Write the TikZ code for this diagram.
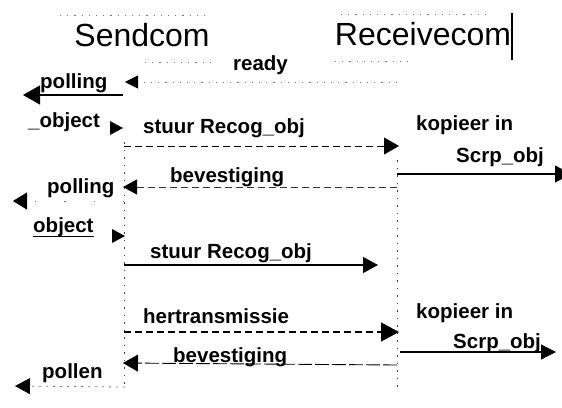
\documentclass[tikz,border=0pt]{standalone}
\usepackage{fontspec}
\setmainfont{Liberation Sans}
\usetikzlibrary{arrows.meta}
\begin{document}
\begin{tikzpicture}[x=1pt,y=-1pt,
  title/.style={font=\fontsize{32}{36}\selectfont, inner sep=0pt, anchor=base},
  lbl/.style={font=\fontsize{20.5}{23}\selectfont\bfseries, inner sep=0pt, anchor=base west},
  faint/.style={black!55, line width=0.8pt, dash pattern=on 1.2pt off 6pt},
  lifeline/.style={black!75, line width=0.9pt, dash pattern=on 1.5pt off 6pt},
  dashmsg/.style={line width=0.9pt, dash pattern=on 7pt off 4pt},
  solidmsg/.style={line width=1.3pt},
  bighead/.style={-{Triangle[length=15pt,width=17pt,black]}},
  smallhead/.style={-{Triangle[length=13pt,width=13pt,black]}},
  tipR/.pic={\fill (0,0) -- (-13,-7) -- (-13,7) -- cycle;},
  tipL/.pic={\fill (0,0) -- (14,-8) -- (14,8) -- cycle;}]
\useasboundingbox (0,0) rectangle (562,407);
\clip (0,0) rectangle (562,407);

% process headers
\node[title] (send) at (142,46) {Sendcom};
\node[title] (recv) at (423,45) {Receivecom};
\coordinate (barT) at (512,13);
\coordinate (barB) at (512,60);
\draw[line width=1.6pt] (barT) -- (barB);

% remains of the header frames
\coordinate (fa1) at (60,15);   \coordinate (fa2) at (210,15);
\coordinate (fb1) at (341,14);  \coordinate (fb2) at (489,14);
\coordinate (fc1) at (145,62);  \coordinate (fc2) at (210,62);
\coordinate (fd1) at (335,61);  \coordinate (fd2) at (410,61);
\draw[faint] (fa1) -- (fa2);
\draw[faint] (fb1) -- (fb2);
\draw[faint] (fc1) -- (fc2);
\draw[faint] (fd1) -- (fd2);

% life lines
\coordinate (Ltop) at (124,142);
\coordinate (Lbot) at (124,388);
\coordinate (Rtop) at (397,160);
\coordinate (Rbot) at (397,392);
\draw[lifeline] (Ltop) -- (Lbot);
\draw[lifeline] (Rtop) -- (Rbot);

% ready
\node[lbl] (ready) at (233,70) {ready};
\coordinate (rdyR) at (397,82);
\coordinate (rdyL) at (125,82);
\draw[faint, smallhead] (rdyR) -- (rdyL);

% first polling / object
\node[lbl] (poll1) at (40,88) {polling};
\coordinate (p1a) at (123,95);
\coordinate (p1b) at (23,95);
\draw[line width=1.2pt, -{Triangle[length=17pt,width=19pt]}] (p1a) -- (p1b);
\node[lbl] (obj1) at (28,127) {\_object};
\pic at (123,128) {tipR};

% first transmission
\node[lbl] (stuur1) at (143,133) {stuur Recog\_obj};
\coordinate (s1L) at (124,146);
\coordinate (s1R) at (399,146);
\draw[dashmsg, bighead] (s1L) -- (s1R);
\node[lbl] (kop1) at (416,130) {kopieer in};
\node[lbl] (scrp1) at (456,162) {Scrp\_obj};
\coordinate (c1a) at (397,174);
\coordinate (c1b) at (571,174);
\draw[line width=1.1pt, -{Triangle[length=16pt,width=17pt]}] (c1a) -- (c1b);

% first acknowledgement
\node[lbl] (bev1) at (170,182) {bevestiging};
\coordinate (b1R) at (397,187);
\coordinate (b1L) at (123,187);
\draw[dashmsg, black!80, -{Triangle[length=14pt,width=15pt,black]}] (b1R) -- (b1L);

% second polling / object
\node[lbl] (poll2) at (47,193) {polling};
\coordinate (p2a) at (124,201);
\coordinate (p2b) at (13,201);
\draw[faint, dash pattern=on 1.2pt off 28pt, -{Triangle[length=14pt,width=17pt,black]}] (p2a) -- (p2b);
\node[lbl] (obj2) at (33,232) {object};
\draw[line width=1pt] (obj2.south west) -- (obj2.south east);
\pic at (125,236) {tipR};

% second transmission
\node[lbl] (stuur2) at (150,258) {stuur Recog\_obj};
\coordinate (s2L) at (124,265);
\coordinate (s2R) at (378,265);
\draw[solidmsg, -{Triangle[length=15pt,width=16pt]}] (s2L) -- (s2R);

% retransmission
\node[lbl] (hert) at (143,323) {hertransmissie};
\coordinate (hL) at (124,332);
\coordinate (hR) at (399,332);
\draw[dashmsg, line width=1.1pt, -{Triangle[length=18pt,width=19pt]}] (hL) -- (hR);
\node[lbl] (kop2) at (416,318) {kopieer in};
\node[lbl] (scrp2) at (453,348) {Scrp\_obj};
\coordinate (c2a) at (400,352);
\coordinate (c2b) at (556,352);
\draw[line width=1.2pt, -{Triangle[length=15pt,width=15pt]}] (c2a) -- (c2b);

% second acknowledgement
\node[lbl] (bev2) at (173,362) {bevestiging};
\coordinate (b2R) at (397,365);
\coordinate (b2L) at (123,363);
\draw[line width=0.9pt, dash pattern=on 14pt off 3pt, -{Triangle[length=15pt,width=17pt]}] (b2R) -- (b2L);

% pollen
\node[lbl] (pollen) at (42,378) {pollen};
\coordinate (pnL) at (125,387);
\coordinate (pnR) at (15,386);
\draw[faint, dash pattern=on 2pt off 5pt, -{Triangle[length=15pt,width=16pt,black]}] (pnL) -- (pnR);
\end{tikzpicture}
\end{document}
